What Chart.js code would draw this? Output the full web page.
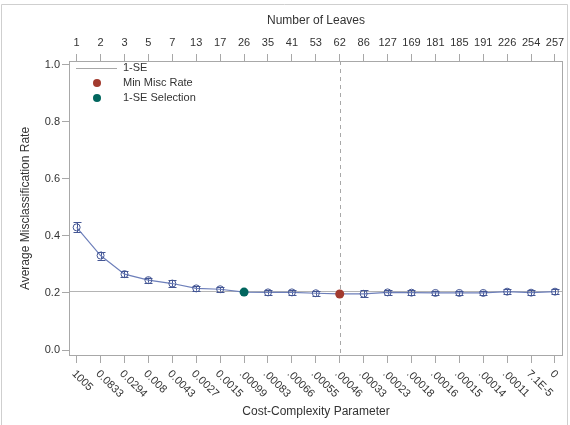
<!DOCTYPE html>
<html><head><meta charset="utf-8">
<script src="https://cdn.jsdelivr.net/npm/chart.js@4.4.1/dist/chart.umd.min.js"></script>
<style>html,body{margin:0;padding:0;background:#fff;} #wrap{position:relative;width:570px;height:425px;}</style>
</head><body><div id="wrap"><canvas id="c" width="570" height="425"></canvas></div>
<script>
// ---- data ----
const costLabels = ["1005","0.0833","0.0294","0.008","0.0043","0.0027","0.0015",".00099",".00083",".00066",".00055",".00046",".00033",".00023",".00018",".00016",".00015",".00014",".00011","7.1E-5","0"];
const leafLabels = ["1","2","3","5","7","13","17","26","35","41","53","62","86","127","169","181","185","191","226","254","257"];
const avgMisc = [0.430,0.331,0.266,0.245,0.233,0.216,0.213,0.203,0.202,0.202,0.199,0.1965,0.197,0.202,0.201,0.200,0.200,0.200,0.2045,0.201,0.2045];
const stdErr  = [0.017,0.014,0.010,0.009,0.011,0.008,0.008,0.007,0.008,0.008,0.009,0.008,0.012,0.008,0.008,0.008,0.008,0.008,0.008,0.008,0.008];
const oneSE = 0.206;
const minIndex = 11;
const selIndex = 7;
const yTicks = [0, 0.2, 0.4, 0.6, 0.8, 1.0];
const legendItems = [
  {label: "1-SE", kind: "line", color: "#a8a8a8"},
  {label: "Min Misc Rate", kind: "dot", color: "#a23a2e"},
  {label: "1-SE Selection", kind: "dot", color: "#01665e"}
];

// ---- styles ----
const FONT = "'Liberation Sans', Arial, sans-serif";
const TXT = "#333";
const AX = "#a8a8a8";
const BLUE = "#445694";
const LINE = "#6d7fba";
const X_MIN = -0.32, X_MAX = 20.335;
const Y_MIN = -0.021, Y_MAX = 1.013;
Chart.defaults.font.family = FONT;
Chart.defaults.color = TXT;

const pts = avgMisc.map((v, i) => ({x: i, y: v}));

const decor = {
  id: "decor",
  beforeDatasetsDraw(chart) {
    const {ctx, chartArea: a, scales} = chart;
    const x = scales.x, y = scales.y;
    ctx.save();
    // 1-SE reference line
    ctx.strokeStyle = "#b4b4b4"; ctx.lineWidth = 1;
    const yr = Math.round(y.getPixelForValue(oneSE)) + 0.5;
    ctx.beginPath(); ctx.moveTo(a.left, yr); ctx.lineTo(a.right, yr); ctx.stroke();
    // vertical dashed line at min
    const xm = Math.round(x.getPixelForValue(minIndex)) + 0.5;
    ctx.setLineDash([4, 4]); ctx.strokeStyle = "#a8a8a8";
    ctx.beginPath(); ctx.moveTo(xm, a.top); ctx.lineTo(xm, a.bottom); ctx.stroke();
    ctx.setLineDash([]);
    // error bars
    ctx.strokeStyle = BLUE; ctx.lineWidth = 1;
    avgMisc.forEach((v, i) => {
      if (i === minIndex || i === selIndex) return;
      const px = Math.round(x.getPixelForValue(i)) + 0.5;
      const yt = y.getPixelForValue(v + stdErr[i]);
      const yb = y.getPixelForValue(v - stdErr[i]);
      ctx.beginPath();
      ctx.moveTo(px, yt); ctx.lineTo(px, yb);
      ctx.moveTo(px - 4, Math.round(yt) + 0.5); ctx.lineTo(px + 4, Math.round(yt) + 0.5);
      ctx.moveTo(px - 4, Math.round(yb) + 0.5); ctx.lineTo(px + 4, Math.round(yb) + 0.5);
      ctx.stroke();
    });
    ctx.restore();
  },
  afterDraw(chart) {
    const {ctx, chartArea: a, scales} = chart;
    ctx.save();
    // plot frame
    ctx.strokeStyle = AX; ctx.lineWidth = 1;
    ctx.strokeRect(Math.round(a.left) + 0.5, Math.round(a.top) + 0.5, Math.round(a.right - a.left) - 1, Math.round(a.bottom - a.top) - 1);
    // outer border
    ctx.strokeStyle = "#cfcfcf";
    ctx.beginPath();
    ctx.moveTo(1.5, 425); ctx.lineTo(1.5, 4.5); ctx.lineTo(567.5, 4.5); ctx.lineTo(567.5, 425);
    ctx.stroke();
    // rotated bottom tick labels
    ctx.fillStyle = TXT;
    ctx.font = "11px " + FONT;
    ctx.textAlign = "left"; ctx.textBaseline = "middle";
    costLabels.forEach((lab, i) => {
      const px = scales.x.getPixelForValue(i);
      ctx.save();
      ctx.translate(px - 3, a.bottom + 16);
      ctx.rotate(Math.PI / 4);
      ctx.fillText(lab, 0, 0);
      ctx.restore();
    });
    // legend
    ctx.font = "11px " + FONT;
    legendItems.forEach((it, k) => {
      const ly = a.top + 7 + k * 15;
      if (it.kind === "line") {
        ctx.strokeStyle = it.color; ctx.lineWidth = 1;
        ctx.beginPath(); ctx.moveTo(a.left + 7, Math.round(ly) + 0.5); ctx.lineTo(a.left + 48, Math.round(ly) + 0.5); ctx.stroke();
      } else {
        ctx.fillStyle = it.color;
        ctx.beginPath(); ctx.arc(a.left + 28, ly, 4, 0, Math.PI * 2); ctx.fill();
      }
      ctx.fillStyle = TXT;
      ctx.fillText(it.label, a.left + 54, ly);
    });
    ctx.restore();
  }
};

new Chart(document.getElementById("c"), {
  type: "line",
  data: {
    datasets: [
      {
        label: "Average Misclassification Rate",
        data: pts,
        borderColor: LINE, borderWidth: 1.2,
        pointRadius: 3.5, pointBorderColor: BLUE, pointBorderWidth: 1,
        pointBackgroundColor: "rgba(255,255,255,0)",
        tension: 0, order: 2
      },
      {
        label: "Min Misc Rate",
        data: [{x: minIndex, y: avgMisc[minIndex]}],
        showLine: false, pointRadius: 4.5, pointBorderWidth: 0,
        pointBackgroundColor: "#a23a2e", pointBorderColor: "#a23a2e", order: 0
      },
      {
        label: "1-SE Selection",
        data: [{x: selIndex, y: avgMisc[selIndex]}],
        showLine: false, pointRadius: 4.5, pointBorderWidth: 0,
        pointBackgroundColor: "#01665e", pointBorderColor: "#01665e", order: 0
      }
    ]
  },
  options: {
    responsive: false, animation: false,
    layout: {padding: {left: 0, right: 7, top: 0, bottom: 0}},
    plugins: {legend: {display: false}, tooltip: {enabled: false}},
    scales: {
      x: {
        type: "linear", position: "bottom", min: X_MIN, max: X_MAX,
        afterBuildTicks: s => { s.ticks = costLabels.map((_, i) => ({value: i})); },
        afterFit: s => { s.height = 69; },
        ticks: {display: false},
        grid: {drawOnChartArea: false, drawTicks: true, tickLength: 7, color: AX},
        border: {display: false},
        title: {display: true, text: "Cost-Complexity Parameter", color: TXT, font: {size: 12}, padding: {top: 0, bottom: 6}}
      },
      x2: {
        type: "linear", position: "top", min: X_MIN, max: X_MAX,
        afterBuildTicks: s => { s.ticks = leafLabels.map((_, i) => ({value: i})); },
        afterFit: s => { s.height = 61; },
        ticks: {autoSkip: false, maxRotation: 0, minRotation: 0, padding: 4, color: TXT, font: {size: 11},
                callback: (v, i) => leafLabels[i]},
        grid: {drawOnChartArea: false, drawTicks: true, tickLength: 7, color: AX},
        border: {display: false},
        title: {display: true, text: "Number of Leaves", color: TXT, font: {size: 12}, padding: {top: 13, bottom: 0}}
      },
      y: {
        type: "linear", position: "left", min: Y_MIN, max: Y_MAX,
        afterBuildTicks: s => { s.ticks = yTicks.map(v => ({value: v})); },
        afterFit: s => { s.width = 69; },
        ticks: {padding: 2, color: TXT, font: {size: 11}, callback: v => v.toFixed(1)},
        grid: {drawOnChartArea: false, drawTicks: true, tickLength: 7, color: AX},
        border: {display: false},
        title: {display: true, text: "Average Misclassification Rate", color: TXT, font: {size: 12}, padding: {top: 18, bottom: 0}}
      }
    }
  },
  plugins: [decor]
});
</script></body></html>
